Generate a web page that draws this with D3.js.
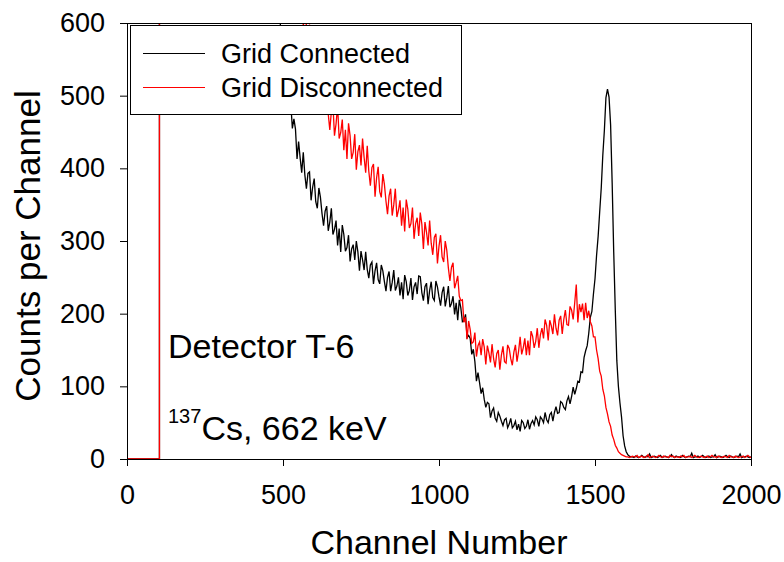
<!DOCTYPE html>
<html><head><meta charset="utf-8">
<script src="https://cdn.jsdelivr.net/npm/d3@7"></script>
<style>
body{margin:0;background:#fff}
svg text{font-family:"Liberation Sans",Arial,sans-serif;fill:#000}
</style>
</head><body>
<svg id="chart" width="784" height="562"></svg>
<script>
// ---------- data ----------
const xTicks = [0, 500, 1000, 1500, 2000];
const yTicks = [0, 100, 200, 300, 400, 500, 600];
const seriesNames = ["Grid Connected", "Grid Disconnected"];
const seriesColors = ["#000000", "#ff0000"];
const xTitle = "Channel Number";
const yTitle = "Counts per Channel";
const detectorLabel = "Detector T-6";
const isotopeMass = "137";
const isotopeLabel = "Cs, 662 keV";

// low-energy threshold step (counts above the plotted range)
const leadChannels = [0, 104, 104];
const leadCounts = [0, 0, 2000];
const channelStep = 5;

// Grid Connected: channels 490..2000, step 5
const connectedStart = 490;
const connectedCounts = [
612,565,570,538,541,498,503,489,455,468,
454,413,437,414,394,422,391,372,393,395,
356,374,386,354,345,373,360,338,321,341,
348,314,326,345,309,316,328,294,317,285,
322,309,286,291,308,272,289,295,274,300,
285,259,286,274,260,285,261,249,267,271,
241,259,270,247,241,267,259,244,231,250,
258,231,243,260,232,238,250,225,243,220,
253,244,225,232,249,219,237,243,227,252,
251,229,218,237,242,213,232,244,222,218,
245,237,223,211,229,237,210,222,238,209,
214,224,199,215,191,219,208,189,190,199,
167,170,166,144,151,134,107,119,105,90,
98,82,71,78,76,57,66,70,56,52,
64,59,52,46,54,56,43,48,56,43,
46,52,40,48,38,53,50,42,45,54,
41,49,53,47,58,54,45,58,55,50,
64,54,50,61,64,52,64,72,63,64,
79,77,71,68,80,86,76,86,99,89,
97,107,106,120,119,140,149,156,173,195,
203,227,248,280,306,340,373,418,452,497,
509,498,460,380,285,205,135,100,77,58,
32,18,10,6,4,3,3,2,4,3,
2,3,5,3,2,4,3,7,2,3,
4,3,2,3,5,2,3,4,3,2,
3,6,3,2,4,3,3,2,5,3,
2,3,4,3,8,2,3,3,4,2,
3,5,3,2,3,4,2,3,3,6,
2,3,4,3,2,3,5,3,2,4,
3,2,3,4,3,7,2,3,3,4,
3,2,3
];

// Grid Disconnected: channels 560..2000, step 5
const disconnectedStart = 560;
const disconnectedCounts = [
651,595,620,596,566,598,554,528,548,550,
499,523,535,496,483,519,503,475,453,478,
488,445,461,486,441,449,467,425,453,413,
462,445,413,422,447,398,423,432,404,441,
415,394,431,396,376,401,406,361,387,402,
368,360,392,378,355,337,362,372,335,350,
372,333,342,356,321,346,313,357,344,318,
324,346,303,324,332,307,339,323,289,326,
312,294,328,297,281,305,310,269,293,308,
278,271,300,287,263,245,264,270,235,243,
252,224,218,219,188,195,165,190,178,159,
161,174,141,156,161,143,165,154,130,156,
146,133,158,138,126,145,150,123,143,155,
134,132,157,152,138,129,147,157,134,148,
168,144,153,166,143,163,143,176,169,153,
162,180,153,171,180,166,192,184,163,191,
183,172,199,180,170,191,197,172,192,205,
185,184,210,205,192,215,240,188,213,202,
214,191,215,194,204,189,183,168,168,150,
138,121,114,96,87,71,62,51,45,33,
27,19,15,10,8,6,5,4,3,3,
2,3,4,3,3,5,2,3,4,2,
3,3,6,2,3,4,3,2,3,5,
3,2,4,3,3,2,5,3,4,2,
3,3,2,4,3,5,2,3,3,4,
2,3,5,3,2,3,4,3,2,3,
4,2,3,5,3,3,2,4,3,2,
3,4,3,2,5,3,3,2,4,3,
2,3,3,4,2,3,5,3,2
];

// ---------- chart ----------
const svg = d3.select("#chart");
const L = 127, R = 751, T = 23, B = 459;
const x = d3.scaleLinear().domain([0, 2000]).range([L, R]);
const y = d3.scaleLinear().domain([0, 600]).range([B, T]);

function buildSeries(start, counts) {
  const pts = leadChannels.map((c, i) => [c, leadCounts[i]]);
  counts.forEach((v, i) => pts.push([start + i * channelStep, v]));
  return pts;
}
const series = [
  buildSeries(connectedStart, connectedCounts),
  buildSeries(disconnectedStart, disconnectedCounts)
];

svg.append("defs").append("clipPath").attr("id", "plotClip")
  .append("rect").attr("x", L).attr("y", T).attr("width", R - L).attr("height", B - T + 1);

const line = d3.line().x(d => x(d[0])).y(d => y(d[1]));
const plot = svg.append("g").attr("clip-path", "url(#plotClip)");
series.forEach((s, i) => {
  plot.append("path").datum(s).attr("d", line)
    .attr("fill", "none").attr("stroke", seriesColors[i]).attr("stroke-width", 1.3);
});

// frame
svg.append("rect").attr("x", L + 0.5).attr("y", T + 0.5).attr("width", R - L).attr("height", B - T)
  .attr("fill", "none").attr("stroke", "#000").attr("stroke-width", 1);

// axes
const xAxis = svg.append("g").attr("transform", `translate(0,${B})`)
  .call(d3.axisBottom(x).tickValues(xTicks).tickSize(7).tickSizeOuter(0).tickPadding(19).tickFormat(d3.format("d")));
const yAxis = svg.append("g").attr("transform", `translate(${L},0)`)
  .call(d3.axisLeft(y).tickValues(yTicks).tickSize(7).tickSizeOuter(0).tickPadding(15).tickFormat(d3.format("d")));
[xAxis, yAxis].forEach(a => {
  a.attr("font-family", null).attr("font-size", null);
  a.selectAll("text").style("font-size", "27px");
  a.selectAll("path,line").attr("stroke", "#000");
});

// axis titles
svg.append("text").attr("x", (L + R) / 2).attr("y", 554).attr("text-anchor", "middle")
  .style("font-size", "34px").text(xTitle);
svg.append("text").attr("transform", `translate(40,${(T + B) / 2 + 5}) rotate(-90)`).attr("text-anchor", "middle")
  .style("font-size", "35px").text(yTitle);

// annotations
svg.append("text").attr("x", 168).attr("y", 358).style("font-size", "34px").text(detectorLabel);
const iso = svg.append("text").attr("x", 168).attr("y", 440).style("font-size", "34px");
iso.append("tspan").style("font-size", "20px").attr("dy", -17).text(isotopeMass);
iso.append("tspan").attr("dy", 17).text(isotopeLabel);

// legend
const lg = svg.append("g");
lg.append("rect").attr("x", 130.5).attr("y", 25.5).attr("width", 331).attr("height", 89)
  .attr("fill", "#fff").attr("stroke", "#000").attr("stroke-width", 1);
seriesNames.forEach((name, i) => {
  const yy = 53.5 + i * 34;
  lg.append("line").attr("x1", 143).attr("x2", 205).attr("y1", yy).attr("y2", yy)
    .attr("stroke", seriesColors[i]).attr("stroke-width", 1);
  lg.append("text").attr("x", 221).attr("y", 63 + i * 33.5).style("font-size", "27px").text(name);
});
</script>
</body></html>
